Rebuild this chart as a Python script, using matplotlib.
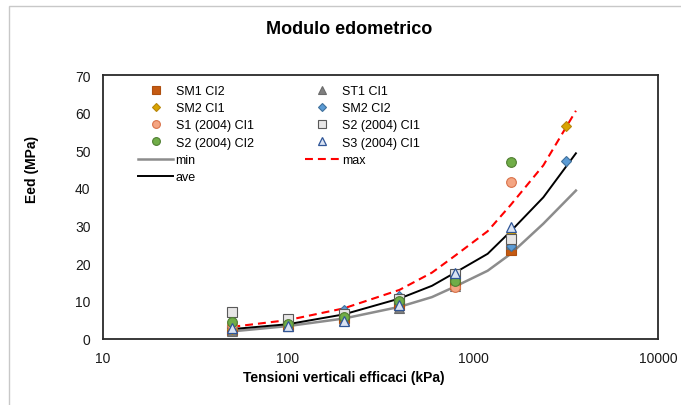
import matplotlib
matplotlib.use("Agg")
import matplotlib.pyplot as plt
from matplotlib.patches import Rectangle

plt.rcParams['font.family'] = ['Liberation Sans', 'DejaVu Sans']

# ---- data ----
x_std = [50, 100, 200, 400, 800, 1600]
x_ext = [50, 100, 200, 400, 800, 1600, 3200]

sm1_ci2 = [2.3, 3.4, 5.5, 8.8, 14.5, 23.5]
st1_ci1 = [2.0, 3.2, 5.0, 8.2, 14.0, 25.0]
sm2_ci1 = [2.6, 3.6, 6.2, 10.0, 16.5, 27.8, 56.4]
sm2_ci2 = [3.0, 3.8, 7.5, 11.4, 16.0, 24.6, 47.1]
s1_2004_ci1 = [3.5, 3.5, 6.2, 10.0, 13.8, 41.5]
s2_2004_ci1 = [7.0, 5.1, 6.5, 10.5, 17.1, 26.4]
s2_2004_ci2 = [4.3, 3.8, 5.8, 10.0, 15.2, 47.0]
s3_2004_ci1 = [2.9, 3.2, 4.7, 9.0, 17.5, 29.5]

x_line = [50, 100, 200, 400, 600, 800, 1200, 1600, 2400, 3600]
e_min = [1.9, 3.3, 5.3, 8.4, 11.0, 13.8, 18.0, 22.5, 30.5, 39.3]
e_ave = [2.5, 3.8, 6.4, 10.6, 14.0, 17.5, 22.5, 28.5, 37.5, 49.2]
e_max = [3.1, 4.9, 8.0, 12.9, 17.5, 22.0, 28.5, 35.5, 46.0, 60.5]

W, H = 681, 406
fig = plt.figure(figsize=(W / 100, H / 100), dpi=100)
ax = fig.add_axes([103 / W, 1 - 339.5 / H, (658 - 103) / W, (339.5 - 76) / H])

# outer chart border
fig.add_artist(Rectangle((9 / W, -0.1), 1.2, (H - 7) / H + 0.1, transform=fig.transFigure,
                         fill=False, ec='#c8c8c8', lw=1.0))

lmin, = ax.plot(x_line, e_min, color='#8c8c8c', lw=1.8, zorder=1, label='min')
lmax, = ax.plot(x_line, e_max, color='#ff0000', lw=1.5, zorder=1, label='max')
lmax.set_dashes((3.8, 2.4))
lave, = ax.plot(x_line, e_ave, color='black', lw=1.4, zorder=1, label='ave')

ms = 6.5
h_sm1 = ax.plot(x_std, sm1_ci2, ls='none', marker='s', ms=ms, mfc='#c55a11', mec='#ae4f0f', mew=0.8, zorder=3, label='SM1 CI2')[0]
h_st1 = ax.plot(x_std, st1_ci1, ls='none', marker='^', ms=7, mfc='#7f7f7f', mec='#6b6b6b', mew=0.8, zorder=3, label='ST1 CI1')[0]
h_sm2a = ax.plot(x_ext, sm2_ci1, ls='none', marker='D', ms=5.5, mfc='#d9a400', mec='#b8860b', mew=0.8, zorder=3, label='SM2 CI1')[0]
h_sm2b = ax.plot(x_ext, sm2_ci2, ls='none', marker='D', ms=5.5, mfc='#5b9bd5', mec='#41719c', mew=0.8, zorder=3, label='SM2 CI2')[0]
h_s1 = ax.plot(x_std, s1_2004_ci1, ls='none', marker='o', ms=7, mfc='#f4a582', mec='#d9724a', mew=0.8, zorder=3, label='S1 (2004) CI1')[0]
h_s2a = ax.plot(x_std, s2_2004_ci1, ls='none', marker='s', ms=7, mfc='#e7e6e6', mec='#595959', mew=0.8, zorder=3, label='S2 (2004) CI1')[0]
h_s2b = ax.plot(x_std, s2_2004_ci2, ls='none', marker='o', ms=7, mfc='#70ad47', mec='#507e32', mew=0.8, zorder=3, label='S2 (2004) CI2')[0]
h_s3 = ax.plot(x_std, s3_2004_ci1, ls='none', marker='^', ms=7.5, mfc='#dae3f3', mec='#2f5597', mew=0.9, zorder=3, label='S3 (2004) CI1')[0]

ax.set_xscale('log')
ax.set_xlim(10, 10000)
ax.set_ylim(0, 70)
ax.set_yticks(range(0, 71, 10))
ax.set_xticks([10, 100, 1000, 10000])
ax.set_xticklabels(['10', '100', '1000', '10000'])
ax.minorticks_off()
ax.tick_params(axis='both', length=0, labelsize=10, colors='#1a1a1a')
ax.tick_params(axis='x', pad=9)
ax.tick_params(axis='y', pad=9)
for s in ax.spines.values():
    s.set_color('#2a2a2a')
    s.set_linewidth(1.3)

handles = [h_sm1, h_sm2a, h_s1, h_s2b, lmin, lave, h_st1, h_sm2b, h_s2a, h_s3, lmax]
ax.legend(handles=handles, labels=[h.get_label() for h in handles], ncol=2, loc='upper left',
          bbox_to_anchor=((138 - 103) / 555, (339.5 - 86) / 263.5), borderaxespad=0, borderpad=0,
          frameon=False, fontsize=9, handlelength=2.8, handletextpad=0.2, columnspacing=4.1,
          labelspacing=0.42, markerscale=0.8)

fig.text(349 / W, 1 - 30 / H, 'Modulo edometrico', ha='center', va='center', fontsize=13,
         fontweight='bold')
fig.text(344 / W, 1 - 378 / H, 'Tensioni verticali efficaci (kPa)', ha='center', va='center',
         fontsize=10, fontweight='bold')
fig.text(32 / W, 1 - 169 / H, 'Eed (MPa)', ha='center', va='center', rotation=90,
         fontsize=10, fontweight='bold')

fig.savefig('out.png', dpi=100)
